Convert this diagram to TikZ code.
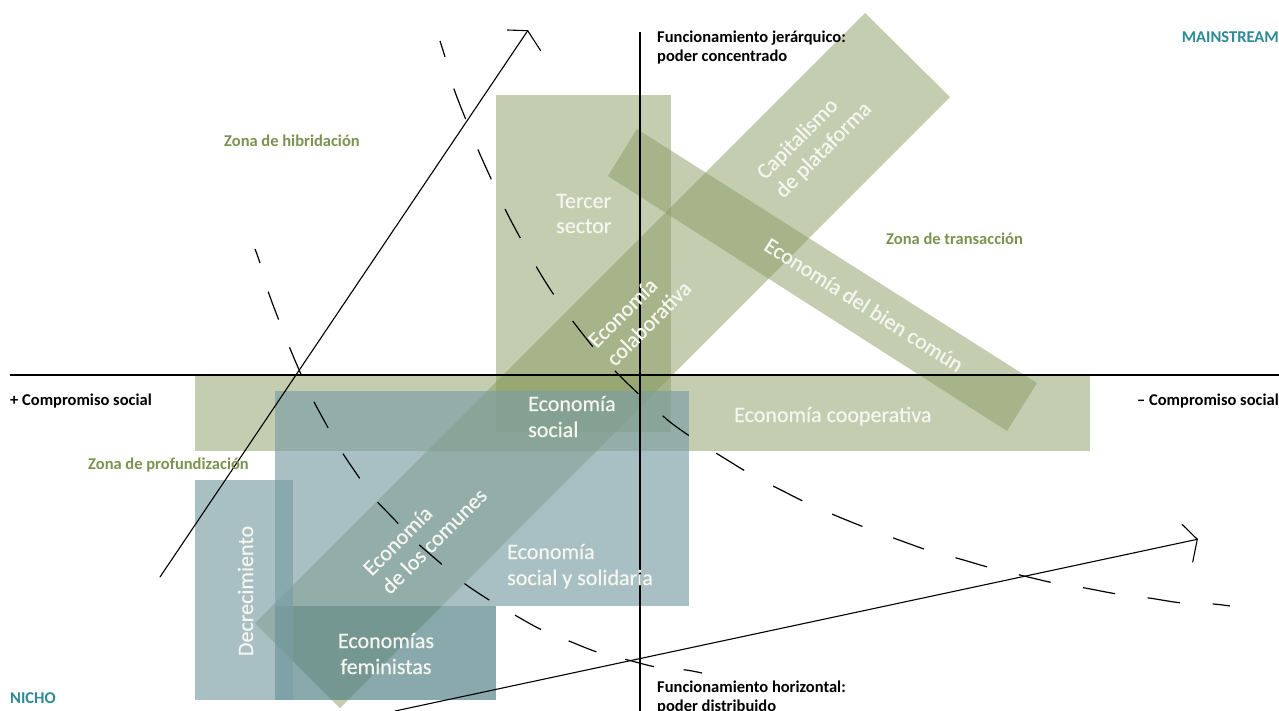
\documentclass[tikz,border=0pt]{standalone}
\usepackage{fontspec}
\setmainfont{Carlito}
\newfontfamily\whitefont[FakeBold=0.5]{Carlito}
\definecolor{grn}{RGB}{139,157,99}
\definecolor{blu}{RGB}{122,158,164}
\definecolor{bludk}{RGB}{75,123,130}
\definecolor{olivec}{RGB}{122,148,80}
\definecolor{tealc}{RGB}{46,138,150}
\definecolor{offwhite}{RGB}{246,246,240}
\begin{document}
\begin{tikzpicture}[x=1pt,y=-1pt,
  gzone/.style={fill=grn, fill opacity=0.5},
  bzone/.style={fill=blu, fill opacity=0.65},
  bzonedk/.style={fill=bludk, fill opacity=0.65},
  lbl/.style={font=\fontsize{16.5}{19}\selectfont\bfseries, inner sep=0pt, anchor=base west, text=black},
  zonelbl/.style={lbl, text=olivec},
  wl/.style={text=offwhite, font=\whitefont\fontsize{22}{26}\selectfont, inner sep=0pt, anchor=base west},
  axis/.style={line width=2.3pt, black},
  arrowline/.style={line width=1.1pt, black, line cap=round, line join=miter},
  dashcurve/.style={line width=1.2pt, black}
]
\useasboundingbox (0,0) rectangle (1279,711);
\fill[white] (0,0) rectangle (1279,711);

% green regions
\fill[gzone] (496,95) rectangle (671,432);           % Tercer sector
\fill[gzone] (195,376) rectangle (1090,451);         % Economia cooperativa
\fill[gzone] (255,623) -- (340,708) -- (950,97) -- (865,13) -- cycle;  % long 45 deg band
\fill[gzone] (608,176) -- (637,129) -- (1037,383) -- (1007,431) -- cycle; % bien comun band

% blue regions
\fill[bzone] (275,391) rectangle (689,606);          % Economia social y solidaria
\fill[bzonedk] (275,606) rectangle (496,700);        % Economias feministas
\fill[bzone] (195,480) rectangle (293,700);          % Decrecimiento

% axes
\coordinate (hxl) at (10,375);
\coordinate (hxr) at (1279,375);
\coordinate (vxt) at (640,32);
\coordinate (vxb) at (640,711);
\draw[axis] (hxl) -- (hxr);
\draw[axis] (vxt) -- (vxb);

% solid arrows with open heads
\coordinate (a1s) at (160,577);
\coordinate (a1e) at (527.7,30.7);
\coordinate (a1l) at (507.3,30);
\coordinate (a1r) at (540.7,50.7);
\draw[arrowline] (a1s) -- (a1e);
\draw[arrowline] (a1l) -- (a1e) -- (a1r);
\coordinate (a2s) at (395,711);
\coordinate (a2e) at (1197.3,539.3);
\coordinate (a2l) at (1182,524.3);
\coordinate (a2r) at (1192.7,562);
\draw[arrowline] (a2s) -- (a2e);
\draw[arrowline] (a2l) -- (a2e) -- (a2r);

% dashed curves
\draw[dashcurve, dash pattern=on 32.75pt off 32.75pt, dash phase=16pt]
  plot[smooth, tension=0.5] coordinates {(440,41) (445,57) (454,89) (466,120) (479,152) (493,183) (507,213) (523,243) (540,273) (558,301) (578,328) (599,354) (623,379) (643,398) (670,422) (697,441) (724,458) (752,475) (781,490) (809,504) (839,517) (869,529) (899,540) (930,551) (960,559) (991,568) (1024,576) (1054,583) (1085,588) (1117,594) (1149,598) (1182,603) (1213,604) (1230,606)};
\draw[dashcurve, dash pattern=on 29.8pt off 29.8pt, dash phase=14.9pt]
  plot[smooth, tension=0.5] coordinates {(255,249) (260,263) (268,291) (278,318) (289,346) (300,372) (312,398) (326,424) (340,449) (356,473) (373,497) (393,518) (415,541) (438,561) (461,581) (486,598) (513,614) (540,629) (569,641) (597,652) (628,660) (656,667) (686,670) (702,673)};

% axis and zone labels
\node[lbl] (fj1) at (657,43) {Funcionamiento jerárquico:};
\node[lbl] (fj2) at (657,62) {poder concentrado};
\node[lbl, anchor=base east, text=tealc] (ms) at (1279,43) {MAINSTREAM};
\node[zonelbl] (zh) at (224,147) {Zona de hibridación};
\node[zonelbl] (zt) at (886,245) {Zona de transacción};
\node[lbl] (cs1) at (10,405) {+ Compromiso social};
\node[lbl, anchor=base east] (cs2) at (1279,405) {– Compromiso social};
\node[zonelbl] (zp) at (88,469) {Zona de profundización};
\node[lbl, text=tealc] (ni) at (10,703) {NICHO};
\node[lbl] (fh1) at (657,692) {Funcionamiento horizontal:};
\node[lbl] (fh2) at (657,711) {poder distribuido};

% white labels
\node[wl] (ts1) at (556,208) {Tercer};
\node[wl] (ts2) at (556,233) {sector};
\node[wl] (es1) at (528,411) {Economía};
\node[wl] (es2) at (528,437) {social};
\node[wl] (ec) at (734,422) {Economía cooperativa};
\node[wl] (ess1) at (507,559) {Economía};
\node[wl] (ess2) at (507,585) {social y solidaria};
\node[wl, anchor=base] (ef1) at (386,648) {Economías};
\node[wl, anchor=base] (ef2) at (386,674) {feministas};
\node[wl, anchor=base, rotate=90] (dec) at (253,591) {Decrecimiento};
\node[wl, rotate=45] (col1) at (596.7,348.9) {Economía};
\node[wl, rotate=45] (col2) at (615.1,367.3) {colaborativa};
\node[wl, rotate=45] (cap1) at (765.1,180.6) {Capitalismo};
\node[wl, rotate=45] (cap2) at (783.5,199) {de plataforma};
\node[wl, rotate=45] (com1) at (371.7,576.9) {Economía};
\node[wl, rotate=45] (com2) at (390.1,595.3) {de los comunes};
\node[wl, anchor=base, rotate=-32.4] (ebc) at (860,311) {Economía del bien común};
\end{tikzpicture}
\end{document}
